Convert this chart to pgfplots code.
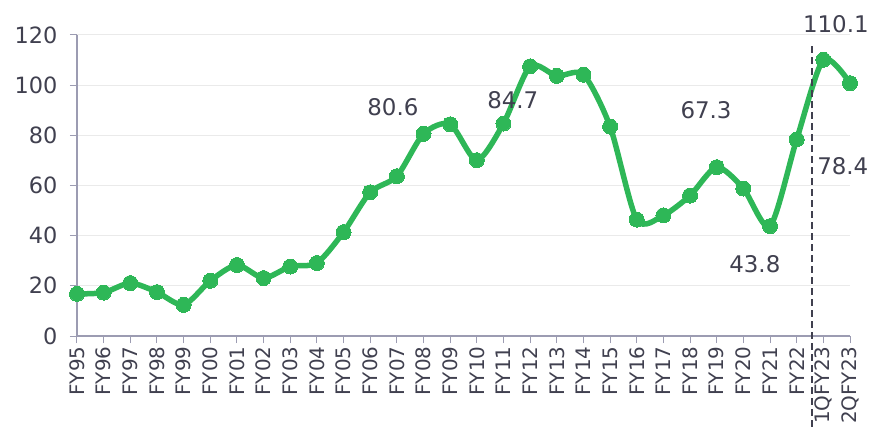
\documentclass[border=0pt]{standalone}
\usepackage{pgfplots}
\pgfplotsset{compat=1.18}
\usepackage{fontspec}
\setmainfont{DejaVu Sans}
\definecolor{lgreen}{HTML}{2EB757}
\definecolor{txt}{HTML}{40404F}
\definecolor{axc}{HTML}{9C9CB2}
\definecolor{gridc}{HTML}{EAEAEA}
\begin{document}
\begin{tikzpicture}[x=1bp,y=1bp]
\begin{axis}[
  scale only axis,
  width=773bp, height=301bp,
  xmin=0, xmax=29, ymin=0, ymax=120,
  axis x line*=bottom, axis y line*=left,
  axis line style={axc, line width=1.2bp},
  xtick={0,...,29},
  xticklabels={FY95,FY96,FY97,FY98,FY99,FY00,FY01,FY02,FY03,FY04,FY05,FY06,FY07,FY08,FY09,FY10,FY11,FY12,FY13,FY14,FY15,FY16,FY17,FY18,FY19,FY20,FY21,FY22,1QFY23,2QFY23},
  ytick={0,20,...,120},
  tick align=outside,
  major tick length=7bp,
  tick style={axc, line width=1bp},
  ymajorgrids, grid style={gridc, line width=1bp},
  /pgf/number format/assume math mode=true,
  xticklabel style={rotate=90, anchor=east, font=\fontsize{20}{22}\selectfont, text=txt},
  yticklabel style={font=\fontsize{22.5}{24}\selectfont, text=txt, xshift=-9bp},
  clip=false,
]
\addplot[lgreen, line width=5.5bp, smooth, tension=0.45, mark=*, mark size=7.5bp, mark options={fill=lgreen, draw=lgreen, line width=0bp}]
coordinates {
(0,16.8) (1,17.3) (2,21.1) (3,17.5) (4,12.4) (5,22.0) (6,28.3) (7,23.1) (8,27.7) (9,29.1)
(10,41.4) (11,57.3) (12,63.7) (13,80.6) (14,84.4) (15,70.1) (16,84.7) (17,107.5) (18,103.7) (19,104.2)
(20,83.5) (21,46.4) (22,48.1) (23,56.0) (24,67.3) (25,58.8) (26,43.8) (27,78.4) (28,110.1) (29,100.8)
};
\draw[txt, line width=2bp, dash pattern=on 7bp off 4bp] (axis cs:27.56,115.6) -- (axis cs:27.56,-36.4);
\begin{scope}[every node/.style={font=\fontsize{23}{26}\selectfont, text=txt, inner sep=0pt}]
\node at (axis cs:11.85,91.2) {80.6};
\node at (axis cs:16.35,94) {84.7};
\node at (axis cs:23.6,90) {67.3};
\node at (axis cs:25.43,28.8) {43.8};
\node at (axis cs:28.73,67.6) {78.4};
\node at (axis cs:28.47,124.4) {110.1};
\end{scope}
\end{axis}
\pgfresetboundingbox
\path[use as bounding box] (-77bp,-91bp) rectangle (795bp,336bp);
\end{tikzpicture}
\end{document}
